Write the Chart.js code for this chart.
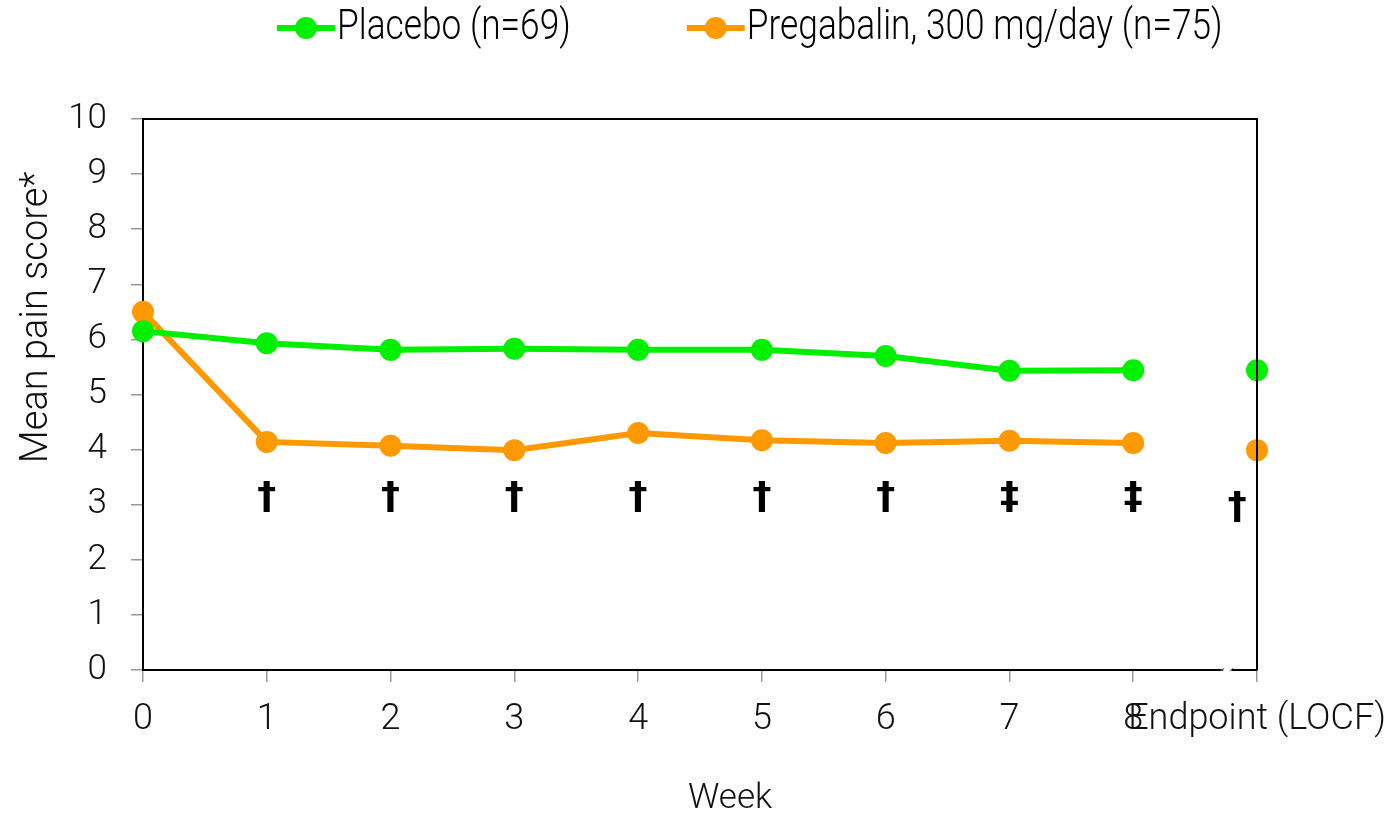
<!DOCTYPE html>
<html>
<head>
<meta charset="utf-8">
<script src="https://cdn.jsdelivr.net/npm/chart.js@4.4.1/dist/chart.umd.min.js"></script>
<style>
  html, body { margin: 0; padding: 0; background: #fff; }
  #wrap { width: 1395px; height: 819px; }
</style>
</head>
<body>
<div id="wrap"><canvas id="line-chart"></canvas></div>
<script>
const weeks = ["0", "1", "2", "3", "4", "5", "6", "7", "8", "Endpoint (LOCF)"];
const placebo = [6.15, 5.93, 5.81, 5.83, 5.81, 5.81, 5.70, 5.43, 5.44, 5.44];
const pregabalin = [6.50, 4.14, 4.07, 3.99, 4.30, 4.17, 4.12, 4.16, 4.12, 3.99];
const yTicks = [0, 1, 2, 3, 4, 5, 6, 7, 8, 9, 10];

// significance marks under the pregabalin line
const sigX = [1, 2, 3, 4, 5, 6, 7, 8, 8.84];
const sigY = [3.12, 3.12, 3.12, 3.12, 3.12, 3.12, 3.12, 3.12, 2.94];
const sigText = ["\u2020", "\u2020", "\u2020", "\u2020", "\u2020", "\u2020", "\u2021", "\u2021", "\u2020"];

const GREEN = '#00f000';
const ORANGE = '#ff9900';

// endpoint is not joined to week 8
const hideLast = ctx => ctx.p1DataIndex === weeks.length - 1 ? 'rgba(0,0,0,0)' : undefined;

const extras = {
  id: 'extras',
  afterDraw(chart) {
    const c = chart.ctx, a = chart.chartArea;
    const xs = chart.scales.x, ys = chart.scales.y;
    c.save();
    // box around plot
    c.strokeStyle = '#000';
    c.lineWidth = 2;
    c.beginPath();
    c.moveTo(a.left, a.top); c.lineTo(a.right, a.top); c.lineTo(a.right, a.bottom);
    c.stroke();

    // axis break marks
    const bx = xs.getPixelForValue(8.76);
    c.fillStyle = '#fff';
    c.fillRect(bx - 4, a.bottom - 3, 8, 6);
    c.strokeStyle = '#888';
    c.lineWidth = 1;
    c.beginPath();
    c.moveTo(bx - 7, a.bottom + 1); c.lineTo(bx - 3, a.bottom - 2);
    c.moveTo(bx + 2, a.bottom + 1); c.lineTo(bx + 6, a.bottom - 2);
    c.stroke();

    // daggers
    c.fillStyle = '#000';
    c.font = 'bold 38px "DejaVu Sans"';
    c.textAlign = 'center';
    c.textBaseline = 'middle';
    sigText.forEach((t, i) => {
      c.fillText(t, xs.getPixelForValue(sigX[i]), ys.getPixelForValue(sigY[i]));
    });

    // x axis title
    c.fillStyle = '#111';
    c.font = '300 35px Roboto';
    c.fillText('Week', a.left + a.width * 0.527, 799);

    // y axis title
    c.font = '300 38px Roboto';
    c.translate(a.left - 106, a.top + a.height * 0.36);
    c.rotate(-Math.PI / 2);
    c.fillText('Mean pain score*', 0, 0);
    c.restore();

    // legend, narrow type
    c.save();
    c.font = '300 42px Roboto';
    c.textBaseline = 'middle';
    c.textAlign = 'left';
    const sx = 0.84;
    let x = 277;
    const y = 28;
    chart.data.datasets.forEach(ds => {
      c.strokeStyle = ds.borderColor;
      c.lineWidth = 6;
      c.beginPath(); c.moveTo(x, y); c.lineTo(x + 58, y); c.stroke();
      c.fillStyle = ds.borderColor;
      c.beginPath(); c.arc(x + 29, y, 11, 0, Math.PI * 2); c.fill();
      c.fillStyle = '#000';
      c.save();
      c.translate(x + 60, y);
      c.scale(sx, 1);
      c.fillText(ds.label, 0, 0);
      c.restore();
      x += 60 + c.measureText(ds.label).width * sx + 116;
    });
    c.restore();
  }
};

const ctx = document.getElementById('line-chart');
new Chart(ctx, {
  type: 'line',
  data: {
    labels: weeks,
    datasets: [{
      label: 'Placebo (n=69)',
      data: placebo,
      borderColor: GREEN,
      backgroundColor: GREEN,
      borderWidth: 6,
      pointRadius: 11,
      pointBorderWidth: 0,
      pointBackgroundColor: GREEN,
      segment: { borderColor: hideLast }
    }, {
      label: 'Pregabalin, 300 mg/day (n=75)',
      data: pregabalin,
      borderColor: ORANGE,
      backgroundColor: ORANGE,
      borderWidth: 6,
      pointRadius: 11,
      pointBorderWidth: 0,
      pointBackgroundColor: ORANGE,
      segment: { borderColor: hideLast }
    }]
  },
  options: {
    responsive: true,
    maintainAspectRatio: false,
    animation: false,
    layout: { padding: { top: 119, right: 138, left: 0, bottom: 0 } },
    plugins: {
      legend: { display: false },
      tooltip: { enabled: false }
    },
    scales: {
      x: {
        offset: false,
        grid: { drawOnChartArea: false, tickLength: 12, tickColor: '#999', lineWidth: 1.5 },
        border: { color: '#000', width: 2 },
        ticks: {
          autoSkip: false, maxRotation: 0, padding: 16,
          color: '#111',
          font: { family: 'Roboto', weight: '300', size: 36 }
        },
        afterFit: s => { s.height = 149; s.paddingRight = 0; s.paddingLeft = 0; }
      },
      y: {
        min: 0, max: 10,
        afterBuildTicks: s => { s.ticks = yTicks.map(v => ({ value: v })); },
        grid: { drawOnChartArea: false, tickLength: 12, tickColor: '#999', lineWidth: 1.5 },
        border: { color: '#000', width: 2 },
        ticks: {
          padding: 24,
          color: '#111',
          font: { family: 'Roboto', weight: '300', size: 35 }
        },
        afterFit: s => { s.width = 143; }
      }
    }
  },
  plugins: [extras]
});
</script>
</body>
</html>
